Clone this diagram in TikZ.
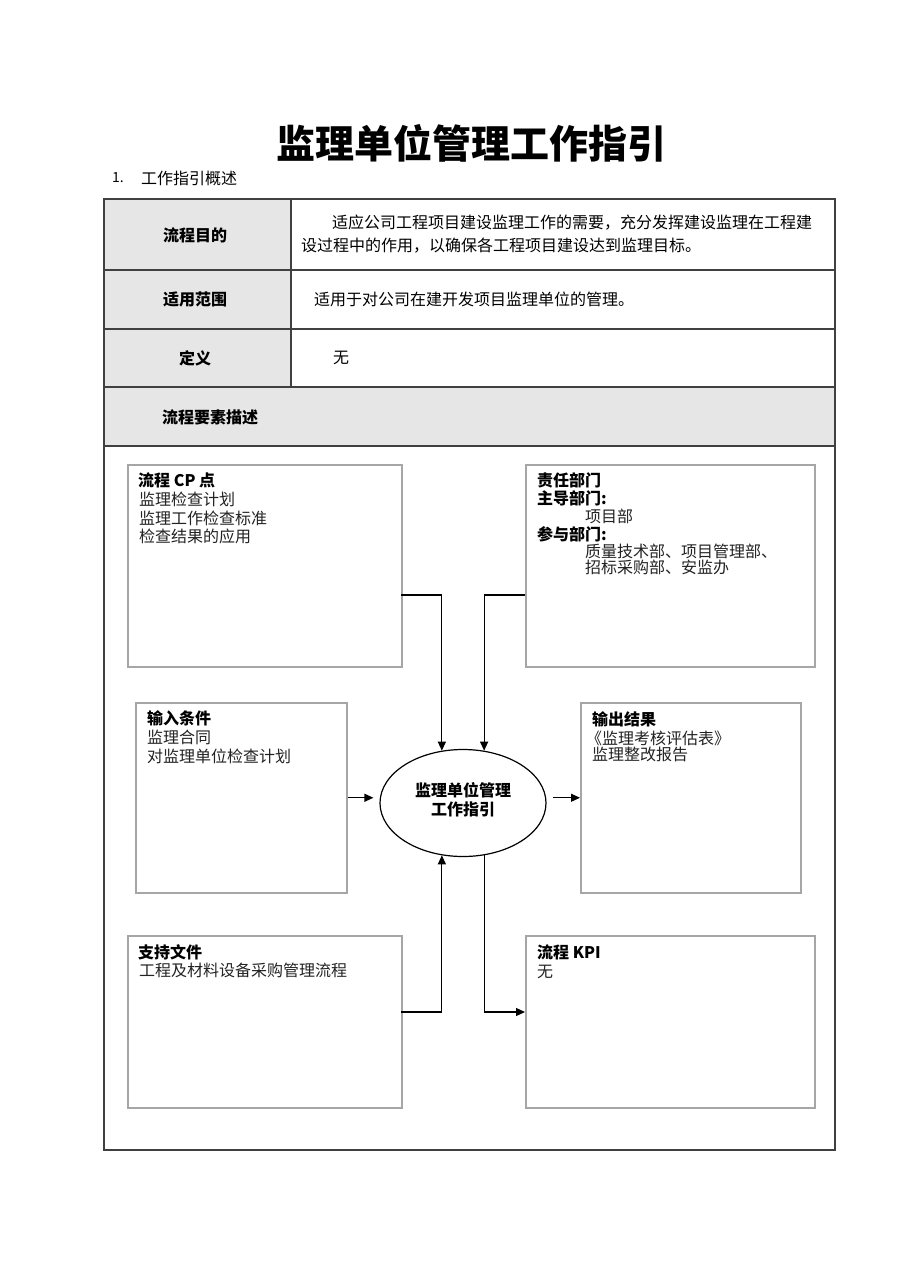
\documentclass[tikz,border=0pt]{standalone}
\usepackage{fontspec}
\setmainfont{Noto Sans CJK SC}
\usetikzlibrary{arrows.meta,shapes.geometric}
\definecolor{cellgray}{HTML}{E6E6E6}
\definecolor{tableline}{HTML}{404040}
\definecolor{boxline}{HTML}{A6A6A6}
\definecolor{bodytext}{HTML}{222222}
\tikzset{
  txt/.style={anchor=west,inner sep=0pt,font=\fontsize{16}{18}\selectfont,text=bodytext},
  lbl/.style={anchor=center,inner sep=0pt,font=\fontsize{16}{18}\selectfont\bfseries},
  hd/.style={anchor=west,inner sep=0pt,font=\fontsize{16}{18}\selectfont\bfseries},
  elembox/.style={draw=boxline,line width=1.5pt,anchor=north west,inner sep=0pt},
  arr/.style={draw=black,line width=1.2pt,-{Triangle[length=9pt,width=8pt]}},
  tline/.style={draw=tableline,line width=1.2pt}
}
\begin{document}
\begin{tikzpicture}[x=1pt,y=-1pt]
\useasboundingbox (0,0) rectangle (909,1286);
% title
\node[anchor=center,inner sep=0pt,font=\fontsize{39}{42}\selectfont\bfseries] (title) at (471,143) {监理单位管理工作指引};
\node[anchor=west,inner sep=0pt,font=\fontsize{14}{15}\selectfont] (num) at (112,178) {1.};
\node[txt,text=black] (sec) at (141,178) {工作指引概述};
% table
\fill[cellgray] (104,199) rectangle (291,387);
\fill[cellgray] (104,387) rectangle (835,446);
\draw[tline] (104,199) rectangle (835,1150);
\draw[tline] (104,270) -- (835,270);
\draw[tline] (104,329) -- (835,329);
\draw[tline] (104,387) -- (835,387);
\draw[tline] (104,446) -- (835,446);
\draw[tline] (291,199) -- (291,387);
\node[lbl] (l1) at (195,235) {流程目的};
\node[lbl] (l2) at (195,299) {适用范围};
\node[lbl] (l3) at (195,358) {定义};
\node[hd] (l4) at (162,417) {流程要素描述};
\node[txt,text=black] (r1a) at (332,223) {适应公司工程项目建设监理工作的需要，充分发挥建设监理在工程建};
\node[txt,text=black] (r1b) at (301,246) {设过程中的作用，以确保各工程项目建设达到监理目标。};
\node[txt,text=black] (r2) at (314,299) {适用于对公司在建开发项目监理单位的管理。};
\node[txt,text=black] (r3) at (333,358) {无};
% element boxes
\node[elembox,minimum width=274pt,minimum height=202pt] (cp) at (127,464) {};
\node[elembox,minimum width=289pt,minimum height=202pt] (resp) at (525,464) {};
\node[elembox,minimum width=211pt,minimum height=190pt] (inp) at (135,702) {};
\node[elembox,minimum width=220pt,minimum height=190pt] (outp) at (580,702) {};
\node[elembox,minimum width=274pt,minimum height=172pt] (sup) at (127,935) {};
\node[elembox,minimum width=289pt,minimum height=172pt] (kpi) at (525,935) {};
\node[draw=black,line width=1.2pt,ellipse,minimum width=166pt,minimum height=107pt,inner sep=0pt] (core) at (463,803) {};
\node[lbl] (c1) at (463,790) {监理单位管理};
\node[lbl] (c2) at (463,809) {工作指引};
% box texts
\node[hd] (cpt) at (138,480) {流程 CP 点};
\node[txt] (cp1) at (139,499) {监理检查计划};
\node[txt] (cp2) at (139,518) {监理工作检查标准};
\node[txt] (cp3) at (139,536) {检查结果的应用};
\node[hd] (rst) at (537,480) {责任部门};
\node[hd] (rs1) at (537,498) {主导部门:};
\node[txt] (rs2) at (585,516) {项目部};
\node[hd] (rs3) at (537,534) {参与部门:};
\node[txt] (rs4) at (585,551) {质量技术部、项目管理部、};
\node[txt] (rs5) at (585,567) {招标采购部、安监办};
\node[hd] (inpt) at (147,718) {输入条件};
\node[txt] (inp1) at (147,737) {监理合同};
\node[txt] (inp2) at (147,756) {对监理单位检查计划};
\node[hd] (outt) at (592,719) {输出结果};
\node[txt] (out1) at (586,738) {《监理考核评估表》};
\node[txt] (out2) at (592,754) {监理整改报告};
\node[hd] (supt) at (138,952) {支持文件};
\node[txt] (sup1) at (139,970) {工程及材料设备采购管理流程};
\node[hd] (kpit) at (537,952) {流程 KPI};
\node[txt] (kpi1) at (537,972) {无};
% connectors
\coordinate (cpo) at (401,595);
\coordinate (spo) at (401,1012);
\draw[arr] (cpo) -| (core.112);
\draw[arr] (resp.west |- cpo) -| (core.68);
\draw[arr,shorten >=6pt] (inp.east) -- (inp.east -| core.west);
\draw[arr,shorten <=6pt] (core.east |- outp.west) -- (outp.west);
\draw[arr] (spo) -| (core.-112);
\draw[arr] (core.-68) |- (kpi.west |- spo);
\end{tikzpicture}
\end{document}
